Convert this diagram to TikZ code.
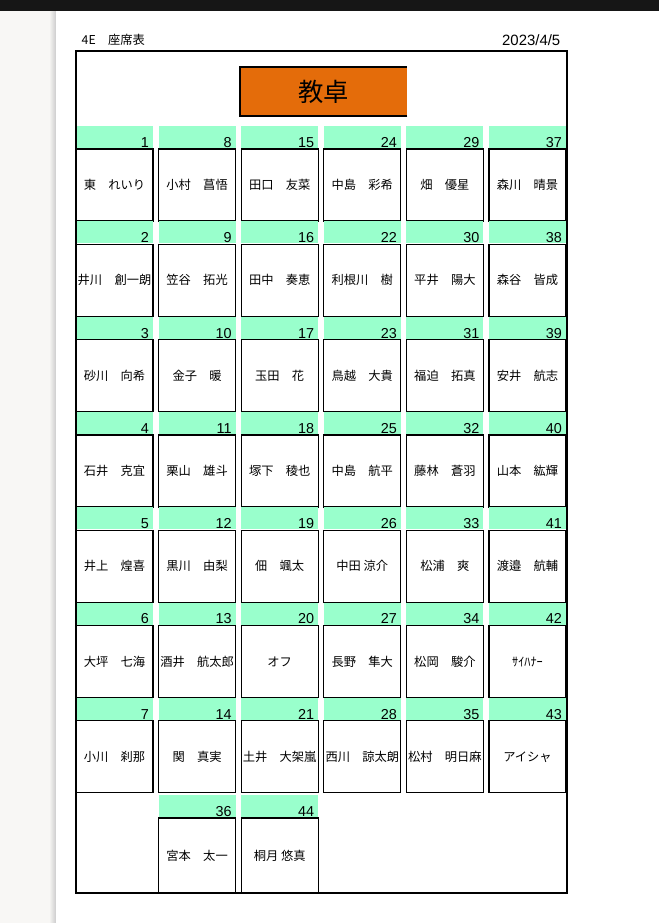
\documentclass[tikz,border=0pt]{standalone}
\usepackage{fontspec}
\setmainfont{Liberation Sans}
\newfontfamily\jp{Noto Sans CJK JP}
\usetikzlibrary{positioning}
\definecolor{seatgreen}{RGB}{153, 255, 204}
\definecolor{deskorange}{RGB}{228, 108, 10}
\definecolor{viewerbar}{RGB}{22, 22, 22}
\definecolor{viewergray}{RGB}{248, 247, 245}
\tikzstyle{seat} = [rectangle, draw=black, fill=white, line width=1pt, minimum width=57.75pt, minimum height=54pt, inner xsep=0.5pt, font=\jp\fontsize{9.2}{11}\selectfont]
\tikzstyle{lastseat} = [seat, minimum height=56.25pt]
\tikzstyle{band} = [rectangle, fill=seatgreen, minimum width=57.75pt, text width=51.75pt, align=right, text height=15.5pt, text depth=0pt, inner xsep=3pt, inner ysep=0.5pt, font=\fontsize{10.8}{12}\selectfont]
\tikzstyle{desk} = [rectangle, fill=deskorange, minimum width=125.25pt, minimum height=36.75pt, font=\jp\fontsize{19}{22}\selectfont]
\tikzstyle{deskline} = [line width=1.5pt]
\tikzstyle{frame} = [rectangle, draw=black, line width=1.6pt, minimum width=368.25pt, minimum height=631.5pt]

\begin{document}
\begin{tikzpicture}[x=0.75pt, y=-0.75pt]
    % Viewer background
    \useasboundingbox (0,0) rectangle (659,923);
    \fill[viewergray] (0,0) rectangle (56,923);
    \shade[left color=viewergray, right color=gray!40] (49,0) rectangle (56,923);
    \fill[white] (56,0) rectangle (659,923);
    \fill[viewerbar] (0,0) rectangle (659,11);
    
    % Header
    \node[anchor=west, font=\jp\fontsize{9.2}{11}\selectfont] (title) at (77,40) {4E　座席表};
    \node[anchor=east, font=\fontsize{11.2}{12}\selectfont] (date) at (565,40) {2023/4/5};
    
    % Teacher's desk
    \node[desk] (desk) at (323.5,91.5) {教卓};
    \draw[deskline] (desk.south east) -- (desk.south west) -- (desk.north west) -- (desk.north east);
    
    % Column 1
    \foreach \num/\who [count=\r] in {1/東　れいり, 2/井川　創一朗, 3/砂川　向希, 4/石井　克宜, 5/井上　煌喜, 6/大坪　七海, 7/小川　刹那}
        {\node[seat] (seat\num) at (114.5,{185+95.3*(\r-1)}) {\who};
         \node[band, above=0pt of seat\num] (band\num) {\num};}
    
    % Column 2
    \foreach \num/\who [count=\r] in {8/小村　菖悟, 9/笠谷　拓光, 10/金子　暖, 11/栗山　雄斗, 12/黒川　由梨, 13/酒井　航太郎, 14/関　真実}
        {\node[seat] (seat\num) at (197.1,{185+95.3*(\r-1)}) {\who};
         \node[band, above=0pt of seat\num] (band\num) {\num};}
    
    % Column 3
    \foreach \num/\who [count=\r] in {15/田口　友菜, 16/田中　奏恵, 17/玉田　花, 18/塚下　稜也, 19/佃　颯太, 20/オフ, 21/土井　大架嵐}
        {\node[seat] (seat\num) at (279.7,{185+95.3*(\r-1)}) {\who};
         \node[band, above=0pt of seat\num] (band\num) {\num};}
    
    % Column 4
    \foreach \num/\who [count=\r] in {24/中島　彩希, 22/利根川　樹, 23/鳥越　大貴, 25/中島　航平, 26/中田 涼介, 27/長野　隼大, 28/西川　諒太朗}
        {\node[seat] (seat\num) at (362.3,{185+95.3*(\r-1)}) {\who};
         \node[band, above=0pt of seat\num] (band\num) {\num};}
    
    % Column 5
    \foreach \num/\who [count=\r] in {29/畑　優星, 30/平井　陽大, 31/福迫　拓真, 32/藤林　蒼羽, 33/松浦　爽, 34/松岡　駿介, 35/松村　明日麻}
        {\node[seat] (seat\num) at (444.9,{185+95.3*(\r-1)}) {\who};
         \node[band, above=0pt of seat\num] (band\num) {\num};}
    
    % Column 6
    \foreach \num/\who [count=\r] in {37/森川　晴景, 38/森谷　皆成, 39/安井　航志, 40/山本　紘輝, 41/渡邉　航輔, 42/ｻｲﾊﾅｰ, 43/アイシャ}
        {\node[seat] (seat\num) at (527.5,{185+95.3*(\r-1)}) {\who};
         \node[band, above=0pt of seat\num] (band\num) {\num};}
    
    % Last row
    \node[lastseat] (seat36) at (197.1,855.5) {宮本　太一};
    \node[band, above=0pt of seat36] (band36) {36};
    \node[lastseat] (seat44) at (279.7,855.5) {桐月 悠真};
    \node[band, above=0pt of seat44] (band44) {44};
    
    % Classroom outline
    \node[frame] (frame) at (321.5,472) {};
\end{tikzpicture}
\end{document}
